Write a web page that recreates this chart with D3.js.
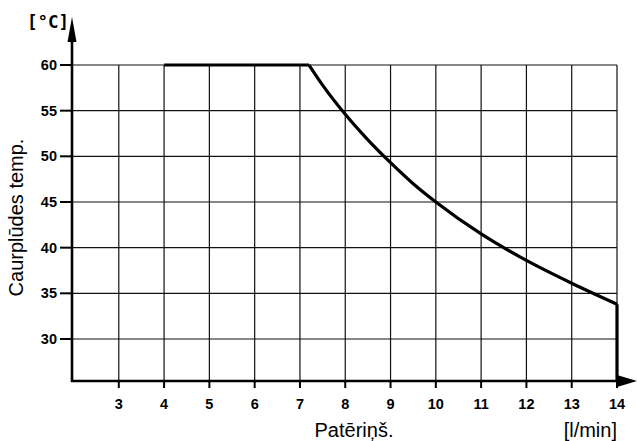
<!DOCTYPE html>
<html><head><meta charset="utf-8">
<script src="https://cdn.jsdelivr.net/npm/d3@7"></script>
<style>body{margin:0;background:#fff}svg{display:block}</style>
</head><body>
<svg id="c" width="637" height="441"></svg>
<script>
const xTicks = [3,4,5,6,7,8,9,10,11,12,13,14];
const yTicks = [30,35,40,45,50,55,60];
const flatX = [4, 7.2];
const flatY = [60, 60];
const curveX = [7.2, 7.5, 8, 8.5, 9, 9.5, 10, 11, 12, 13, 14];
const curveY = [60, 57.8, 54.6, 51.8, 49.3, 47.0, 45.0, 41.5, 38.6, 36.1, 33.8];
const dropX = [14, 14];
const dropY = [33.8, 25.4];
const xLabel = "Patēriņš.";
const xUnit = "[l/min]";
const yLabel = "Caurplūdes temp.";
const yUnit = "[°C]";

const svg = d3.select("#c");
const x = d3.scaleLinear().domain([2,14]).range([73.5,617]);
const y = d3.scaleLinear().domain([25.4,60]).range([381,65]);
const x0 = 72, yb = 381;

const g = svg.append("g");
// grid
g.selectAll(".hg").data(yTicks).join("line")
  .attr("x1", x0).attr("x2", x(14)).attr("y1", d=>y(d)).attr("y2", d=>y(d))
  .attr("stroke","#111").attr("stroke-width",1.2);
g.selectAll(".vg").data(xTicks).join("line")
  .attr("x1", d=>x(d)).attr("x2", d=>x(d)).attr("y1", y(60)).attr("y2", yb)
  .attr("stroke","#111").attr("stroke-width",1.2);

// axes
g.append("line").attr("x1",x0).attr("x2",x0).attr("y1",yb+1).attr("y2",34)
  .attr("stroke","#000").attr("stroke-width",2.6);
g.append("path").attr("d",`M${x0-4.5},42 L${x0},17 L${x0+4.5},42 Z`).attr("fill","#000");
g.append("line").attr("x1",x0-1).attr("x2",624).attr("y1",yb).attr("y2",yb)
  .attr("stroke","#000").attr("stroke-width",2.6);
g.append("path").attr("d",`M617,${yb-6} L637,${yb} L617,${yb+6} Z`).attr("fill","#000");

// ticks
g.selectAll(".xt").data(xTicks).join("line")
  .attr("x1",d=>x(d)).attr("x2",d=>x(d)).attr("y1",yb).attr("y2",yb+7)
  .attr("stroke","#000").attr("stroke-width",2);
g.selectAll(".yt").data(yTicks).join("line")
  .attr("x1",x0-12).attr("x2",x0).attr("y1",d=>y(d)).attr("y2",d=>y(d))
  .attr("stroke","#000").attr("stroke-width",2);

const tf = "Liberation Sans, Arial, sans-serif";
g.selectAll(".xl").data(xTicks).join("text")
  .attr("x",d=>x(d)).attr("y",yb+28).attr("text-anchor","middle").attr("fill","#000")
  .attr("font-family",tf).attr("font-weight","bold").attr("font-size",14.5).text(d=>d);
g.selectAll(".yl").data(yTicks).join("text")
  .attr("x",x0-15).attr("y",d=>y(d)+5).attr("text-anchor","end").attr("fill","#000")
  .attr("font-family",tf).attr("font-weight","bold").attr("font-size",14.5).text(d=>d);

// curve
const line = d3.line().x(d=>x(d[0])).y(d=>y(d[1]));
const st = {stroke:"#000", "stroke-width":3.2, fill:"none", "stroke-linejoin":"round"};
function draw(xs, ys, curve){
  const p = g.append("path").datum(xs.map((v,i)=>[v,ys[i]]))
    .attr("d", line.curve(curve)(xs.map((v,i)=>[v,ys[i]])));
  for (const k in st) p.attr(k, st[k]);
}
draw(flatX, flatY, d3.curveLinear);
draw(curveX, curveY, d3.curveMonotoneX);
draw(dropX, dropY, d3.curveLinear);

// labels
svg.append("text").attr("x",27).attr("y",28).attr("fill","#000")
  .attr("font-family","DejaVu Sans Mono, monospace").attr("font-weight","bold")
  .attr("font-size",17.5).text(yUnit);
svg.append("text").attr("transform","translate(22.5,217.5) rotate(-90)").attr("text-anchor","middle")
  .attr("fill","#000").attr("font-family",tf).attr("font-size",20).text(yLabel);
svg.append("text").attr("x",354).attr("y",437).attr("text-anchor","middle").attr("fill","#000")
  .attr("font-family",tf).attr("font-size",20).text(xLabel);
svg.append("text").attr("x",617).attr("y",437).attr("text-anchor","end").attr("fill","#000")
  .attr("font-family",tf).attr("font-size",20).text(xUnit);
</script>
</body></html>
